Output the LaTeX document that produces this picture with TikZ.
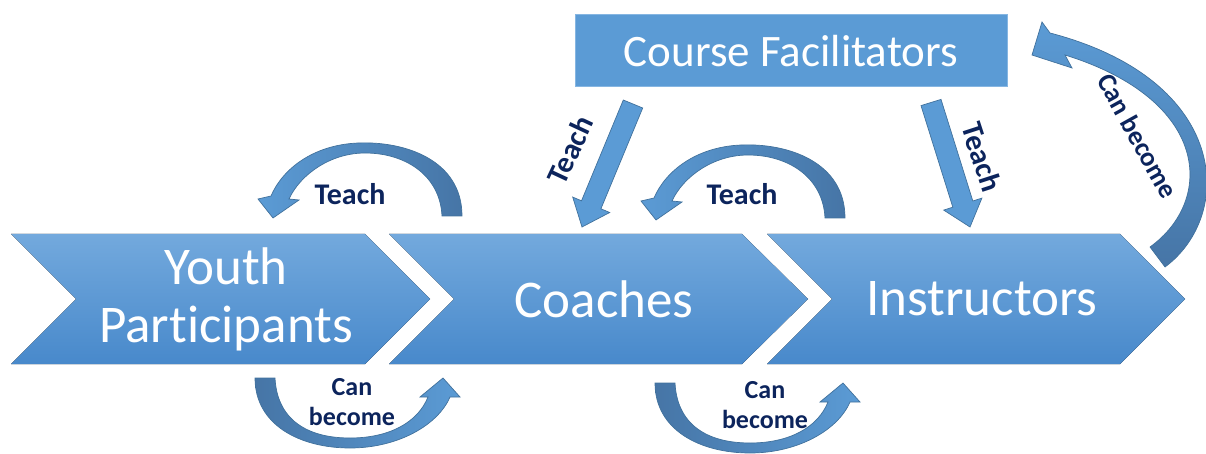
\documentclass[tikz,border=0pt]{standalone}
\usepackage{fontspec}
\setmainfont{Carlito}[Ligatures={NoCommon,NoContextual}]
\definecolor{chevtop}{HTML}{73A9DD}
\definecolor{chevbot}{HTML}{4889CB}
\definecolor{boxfill}{HTML}{5B9BD5}
\definecolor{boxedge}{HTML}{86B6E2}
\definecolor{arrlight}{HTML}{5B9BD5}
\definecolor{arrdark}{HTML}{4675A6}
\definecolor{arredge}{HTML}{41719C}
\definecolor{navy}{RGB}{12,36,92}
\begin{document}
\begin{tikzpicture}[x=1pt,y=-1pt,
  chev/.style={top color=chevtop,bottom color=chevbot},
  chevtext/.style={text=white,font=\fontsize{53}{58}\selectfont,align=center,inner sep=0pt},
  cfbox/.style={fill=boxfill,draw=boxedge,line width=1pt,minimum width=432pt,minimum height=72pt,inner sep=0pt,text=white,font=\fontsize{45}{54}\selectfont},
  lbl/.style={text=navy,font=\bfseries\fontsize{30}{34}\selectfont,inner sep=0pt},
  lbltwo/.style={text=navy,font=\bfseries\fontsize{26}{30}\selectfont,align=center,inner sep=0pt},
  carrow/.style={draw=arredge,line width=0.7pt},
  sarrow/.style={fill=arrlight,draw=arredge,line width=0.7pt}]
\useasboundingbox (0,0) rectangle (1206,454);

% chevrons
\fill[chev] (11,234) -- (365,234) -- (430,299) -- (365,364) -- (11,364) -- (76,299) -- cycle;
\fill[chev] (389,234) -- (742,234) -- (808,299) -- (742,364) -- (389,364) -- (454,299) -- cycle;
\fill[chev] (767,234) -- (1120,234) -- (1185,299) -- (1120,364) -- (767,364) -- (832,299) -- cycle;
\node[chevtext] (youth) at (226,299) {Youth\\Participants};
\node[chevtext] (coaches) at (604,299) {Coaches};
\node[chevtext] (instr) at (982,299) {Instructors};

% course facilitators
\node[cfbox] (cf) at (791,51) {Course Facilitators};

% straight arrows
\path[sarrow] (623.3,100) -- (642.7,108) -- (600.9,208.8) -- (609.7,212.5) -- (582,227) -- (572.7,197.1) -- (581.5,200.8) -- cycle;
\path[sarrow] (941,99.4) -- (972.8,201) -- (981.9,198.1) -- (970,227) -- (943.7,210.1) -- (952.8,207.2) -- (921,105.6) -- cycle;

% curved teach arrows (top)
\path[carrow,left color=arrlight,right color=arrdark] (462,216) .. controls (462,160) and (405,141) .. (358,143) .. controls (312,145) and (282,170) .. (271,196) -- (258,199) -- (273,218) -- (299,200) -- (289,199) .. controls (300,175) and (330,153) .. (365,153) .. controls (405,153) and (440,175) .. (442,216) -- cycle;
\begin{scope}[shift={(383,2)}]
\path[carrow,left color=arrlight,right color=arrdark] (462,216) .. controls (462,160) and (405,141) .. (358,143) .. controls (312,145) and (282,170) .. (271,196) -- (258,199) -- (273,218) -- (299,200) -- (289,199) .. controls (300,175) and (330,153) .. (365,153) .. controls (405,153) and (440,175) .. (442,216) -- cycle;
\end{scope}

% curved can-become arrows (bottom)
\path[carrow,left color=arrdark,right color=arrlight] (255,378) .. controls (255,425) and (300,448) .. (350,448) .. controls (398,448) and (438,425) .. (450,397) -- (460,397) -- (443,378) -- (420,397) -- (428,397) .. controls (418,422) and (390,438) .. (350,438) .. controls (305,438) and (277,418) .. (275,378) -- cycle;
\begin{scope}[shift={(400,5)}]
\path[carrow,left color=arrdark,right color=arrlight] (255,378) .. controls (255,425) and (300,448) .. (350,448) .. controls (398,448) and (438,425) .. (450,397) -- (460,397) -- (443,378) -- (420,397) -- (428,397) .. controls (418,422) and (390,438) .. (350,438) .. controls (305,438) and (277,418) .. (275,378) -- cycle;
\end{scope}

% big can-become arrow (right)
\path[carrow,top color=arrlight,bottom color=arrdark] (1165,267) .. controls (1235,215) and (1230,80) .. (1050,33) -- (1042,22) -- (1032,55) -- (1072,68) -- (1065,55) .. controls (1210,100) and (1215,200) .. (1150,247) -- cycle;

% labels
\node[lbl] (t1) at (350,194) {Teach};
\node[lbl] (t2) at (742,194) {Teach};
\node[lbl,rotate=65] (t3) at (570,150) {Teach};
\node[lbl,rotate=-72] (t4) at (982,157) {Teach};
\node[lbltwo] (c1) at (352,402) {Can\\become};
\node[lbltwo] (c2) at (765,405) {Can\\become};
\node[text=navy,font=\bfseries\fontsize{27}{30}\selectfont,inner sep=0pt,rotate=-61] (c3) at (1138,136) {Can become};
\end{tikzpicture}
\end{document}
